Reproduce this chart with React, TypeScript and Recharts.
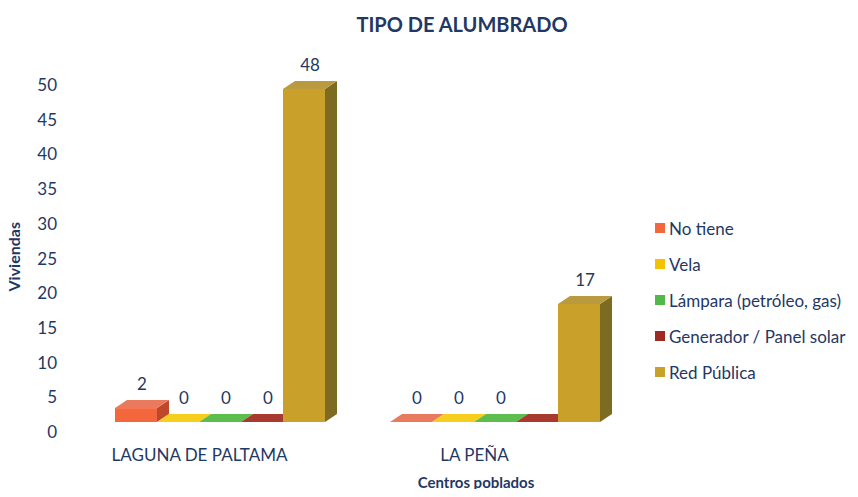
import { BarChart, Bar, XAxis, YAxis, Legend, LabelList } from 'recharts'

const centros = ['LAGUNA DE PALTAMA', 'LA PEÑA']
const noTiene = [2, 0]
const vela = [0, 0]
const lampara = [0, 0]
const generador = [0, 0]
const redPublica = [48, 17]
// the source chart shows no value label on the last empty bar of LA PEÑA
const generadorLabels = ['0', '']
const yTicks = [0, 5, 10, 15, 20, 25, 30, 35, 40, 45, 50]

const series = [
  { key: 'noTiene', name: 'No tiene', front: '#F4663C', top: '#E97A5E', side: '#C0482A' },
  { key: 'vela', name: 'Vela', front: '#F3C200', top: '#F6CF1E', side: '#C29A00' },
  { key: 'lampara', name: 'Lámpara (petróleo, gas)', front: '#52B848', top: '#5DBE4E', side: '#3A8A33' },
  { key: 'generador', name: 'Generador / Panel solar', front: '#9E2B22', top: '#A7392E', side: '#731C16' },
  { key: 'redPublica', name: 'Red Pública', front: '#C9A12A', top: '#B99A3E', side: '#7E6B22' },
]

const data = centros.map((c, i) => ({
  centro: c,
  noTiene: noTiene[i],
  vela: vela[i],
  lampara: lampara[i],
  generador: generador[i],
  redPublica: redPublica[i],
  generadorLabel: generadorLabels[i],
}))

const DX = 12
const DY = 8
const TEXT = '#1F3864'
const FONT = 'Lato, "Open Sans", sans-serif'

function Box3D(props: any) {
  const { x, y, width, height, front, top, side } = props
  const w = width
  const h = Math.max(0, height)
  const base = y + h
  return (
    <g>
      <polygon
        points={`${x + w},${base} ${x + w + DX},${base - DY} ${x + w + DX},${y - DY} ${x + w},${y}`}
        fill={side}
      />
      <polygon
        points={`${x},${y} ${x + w},${y} ${x + w + DX},${y - DY} ${x + DX},${y - DY}`}
        fill={top}
      />
      {h > 0 && <rect x={x} y={y} width={w} height={h} fill={front} />}
    </g>
  )
}

function TopLabel(props: any) {
  const { x, y, width, value } = props
  if (value === '' || value == null) return null
  return (
    <text
      x={x + width / 2 + DX / 2}
      y={y - DY - 10}
      textAnchor="middle"
      fill={TEXT}
      fontSize={17}
      fontFamily={FONT}
    >
      {value}
    </text>
  )
}

function LegendBox() {
  return (
    <div style={{ fontFamily: FONT, fontSize: 17, color: TEXT }}>
      {series.map((s) => (
        <div key={s.key} style={{ display: 'flex', alignItems: 'center', height: 36 }}>
          <span
            style={{
              display: 'inline-block',
              width: 10,
              height: 10,
              background: s.front,
              marginRight: 4,
            }}
          />
          {s.name}
        </div>
      ))}
    </div>
  )
}

export default function App() {
  return (
    <div style={{ position: 'relative', width: 858, height: 497, margin: -8, background: '#fff' }}>
      <div
        style={{
          position: 'absolute',
          left: 0,
          top: 12,
          width: 924,
          textAlign: 'center',
          fontFamily: FONT,
          fontWeight: 700,
          fontSize: 20,
          color: TEXT,
        }}
      >
        TIPO DE ALUMBRADO
      </div>
      <BarChart
        width={858}
        height={497}
        data={data}
        margin={{ top: 75, right: 26, bottom: 35, left: 12 }}
        barCategoryGap="12%"
        barGap={0}
      >
        <XAxis
          dataKey="centro"
          axisLine={false}
          tickLine={false}
          height={40}
          tick={{ fill: TEXT, fontSize: 17, fontFamily: FONT, dx: -20, dy: 19 }}
          label={{
            value: 'Centros poblados',
            position: 'insideBottom',
            offset: -26,
            dx: 119,
            fill: TEXT,
            fontSize: 15,
            fontWeight: 700,
            fontFamily: FONT,
          }}
        />
        <YAxis
          domain={[0, 50]}
          ticks={yTicks}
          axisLine={false}
          tickLine={false}
          width={70}
          tickMargin={19}
          tick={{ fill: TEXT, fontSize: 17, fontFamily: FONT, dy: 10 }}
          label={{
            value: 'Viviendas',
            angle: -90,
            position: 'insideLeft',
            offset: 2,
            dy: 43,
            fill: TEXT,
            fontSize: 16,
            fontWeight: 700,
            fontFamily: FONT,
          }}
        />
        <Legend
          layout="vertical"
          verticalAlign="top"
          align="right"
          content={() => <LegendBox />}
          wrapperStyle={{ position: 'absolute', left: 655, top: 210, width: 200 }}
        />
        {series.map((s) => (
          <Bar
            key={s.key}
            dataKey={s.key}
            name={s.name}
            fill={s.front}
            isAnimationActive={false}
            shape={(p: any) => <Box3D {...p} front={s.front} top={s.top} side={s.side} />}
          >
            <LabelList
              dataKey={s.key === 'generador' ? 'generadorLabel' : s.key}
              content={(p: any) => <TopLabel {...p} />}
            />
          </Bar>
        ))}
      </BarChart>
    </div>
  )
}
